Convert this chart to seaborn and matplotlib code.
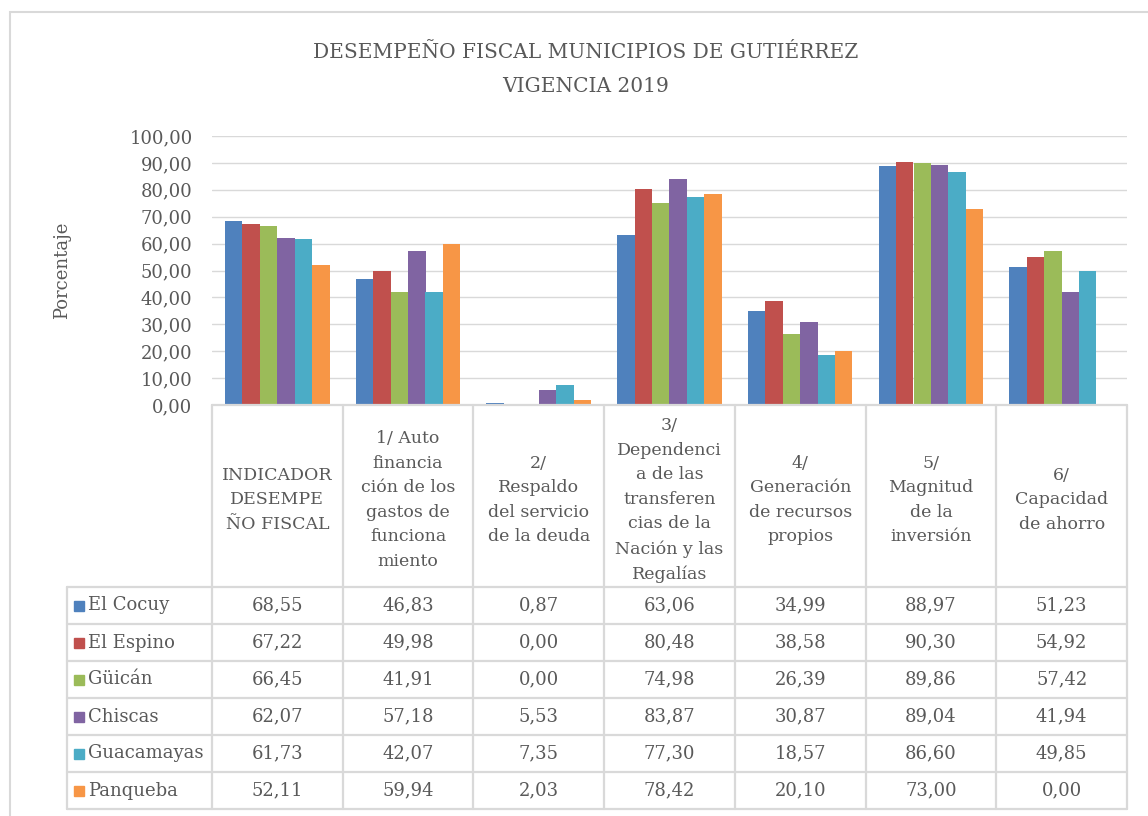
import pandas as pd
import matplotlib
matplotlib.use("Agg")
import matplotlib.pyplot as plt
import seaborn as sns
from matplotlib.patches import Rectangle
from matplotlib.ticker import FuncFormatter

sns.set_style("white")
plt.rcParams['font.family'] = ['DejaVu Serif']

# Data
indicadores = [
    "INDICADOR\nDESEMPE\nÑO FISCAL",
    "1/ Auto\nfinancia\nción de los\ngastos de\nfunciona\nmiento",
    "2/\nRespaldo\ndel servicio\nde la deuda",
    "3/\nDependenci\na de las\ntransferen\ncias de la\nNación y las\nRegalías",
    "4/\nGeneración\nde recursos\npropios",
    "5/\nMagnitud\nde la\ninversión",
    "6/\nCapacidad\nde ahorro",
]
municipios = ["El Cocuy", "El Espino", "Güicán", "Chiscas", "Guacamayas", "Panqueba"]
colores = ["#4F81BD", "#C0504D", "#9BBB59", "#8064A2", "#4BACC6", "#F79646"]

el_cocuy = [68.55, 46.83, 0.87, 63.06, 34.99, 88.97, 51.23]
el_espino = [67.22, 49.98, 0.00, 80.48, 38.58, 90.30, 54.92]
guican = [66.45, 41.91, 0.00, 74.98, 26.39, 89.86, 57.42]
chiscas = [62.07, 57.18, 5.53, 83.87, 30.87, 89.04, 41.94]
guacamayas = [61.73, 42.07, 7.35, 77.30, 18.57, 86.60, 49.85]
panqueba = [52.11, 59.94, 2.03, 78.42, 20.10, 73.00, 0.00]
series = [el_cocuy, el_espino, guican, chiscas, guacamayas, panqueba]

rows = []
for muni, vals in zip(municipios, series):
    for ind, v in zip(indicadores, vals):
        rows.append({"Indicador": ind, "Municipio": muni, "Valor": v})
df = pd.DataFrame(rows)

W, H = 1148, 816
gris = "#595959"
linea = "#d9d9d9"
def coma(v, pos=None):
    return f"{v:.2f}".replace(".", ",")

fig = plt.figure(figsize=(W / 100, H / 100), dpi=100)

# outer chart border
fig.patches.append(Rectangle((10 / W, -0.1), 1.2, (H - 12) / H + 0.1,
                             transform=fig.transFigure, fill=False,
                             edgecolor=linea, linewidth=1.5))

# bar chart
ax = fig.add_axes([212 / W, (H - 405) / H, 915 / W, 269 / H])
sns.barplot(data=df, x="Indicador", y="Valor", hue="Municipio", palette=colores,
            width=0.8, saturation=1, linewidth=0, legend=False, ax=ax)
ax.set_xlim(-0.5, 6.5)
ax.set_ylim(0, 100)
ax.set_yticks(range(0, 101, 10))
ax.yaxis.set_major_formatter(FuncFormatter(coma))
ax.set_xticks([])
ax.set_xlabel("")
ax.set_ylabel("")
ax.grid(axis="y", color=linea, linewidth=1)
ax.set_axisbelow(True)
for s in ax.spines.values():
    s.set_visible(False)
ax.tick_params(axis="y", length=0, pad=14, labelsize=13, labelcolor=gris)

# data table below the chart
ax_t = fig.add_axes([212 / W, (H - 810) / H, 915 / W, 405 / H])
ax_t.set_xlim(-0.5, 6.5)
ax_t.set_ylim(405, 0)
ax_t.axis("off")
cat_px = 915 / 7
x_leg = -0.5 - 145 / cat_px
head_h, row_h = 182, 37

kw = dict(color=linea, linewidth=1.6, clip_on=False)
ax_t.plot([-0.5, 6.5], [0, 0], **kw)
for i in range(len(municipios) + 1):
    y = head_h + i * row_h
    ax_t.plot([x_leg, 6.5], [y, y], **kw)
for j in range(len(indicadores) + 1):
    ax_t.plot([j - 0.5, j - 0.5], [0, head_h + len(municipios) * row_h], **kw)
ax_t.plot([x_leg, x_leg], [head_h, head_h + len(municipios) * row_h], **kw)

for j, ind in enumerate(indicadores):
    ax_t.text(j, head_h / 2 + 4, ind, ha="center", va="center", fontsize=12.5,
              color=gris, linespacing=1.58)

for i, (muni, vals, c) in enumerate(zip(municipios, series, colores)):
    yc = head_h + i * row_h + row_h / 2
    ax_t.plot([x_leg + 11.5 / cat_px], [yc], marker="s", markersize=6.5, color=c,
              linestyle="none", clip_on=False)
    ax_t.text(x_leg + 21 / cat_px, yc, muni, ha="left", va="center",
              fontsize=13, color=gris)
    for j, v in enumerate(vals):
        ax_t.text(j, yc, coma(v), ha="center", va="center", fontsize=13, color=gris)

# titles
fig.text(586 / W, (H - 53) / H, "DESEMPEÑO FISCAL MUNICIPIOS DE GUTIÉRREZ",
         ha="center", va="center", fontsize=14.5, color=gris)
fig.text(586 / W, (H - 86) / H, "VIGENCIA 2019",
         ha="center", va="center", fontsize=14.5, color=gris)
fig.text(62 / W, (H - 270) / H, "Porcentaje", rotation=90, ha="center",
         va="center", fontsize=13, color=gris)

fig.savefig("out.png", dpi=100)
